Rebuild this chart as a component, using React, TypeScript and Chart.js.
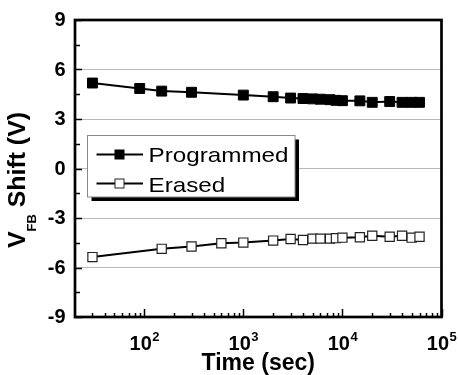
import React, { useEffect, useRef } from 'react';
import { Chart, registerables } from 'chart.js';

Chart.register(...registerables);

// ---- data ----
const programmedTime = [30, 90, 150, 300, 1000, 2000, 3000, 4000, 5000, 6000, 7500, 8600, 10000, 15000, 20000, 30000, 40000, 50000, 60000];
const programmedShift = [5.18, 4.85, 4.69, 4.62, 4.45, 4.35, 4.27, 4.24, 4.22, 4.2, 4.17, 4.13, 4.11, 4.1, 4.01, 4.06, 4.01, 4.01, 4.01];
const erasedTime = [30, 150, 300, 600, 1000, 2000, 3000, 4000, 5000, 6000, 7500, 8600, 10000, 15000, 20000, 30000, 40000, 50000, 60000];
const erasedShift = [-5.37, -4.87, -4.73, -4.53, -4.49, -4.37, -4.27, -4.33, -4.25, -4.25, -4.25, -4.22, -4.19, -4.17, -4.08, -4.14, -4.08, -4.19, -4.14];

const yMajorTicks = [-9, -6, -3, 0, 3, 6, 9];
const yMinorTicks = [-7.5, -4.5, -1.5, 1.5, 4.5, 7.5];
const xMajorTicks = [100, 1000, 10000, 100000];
const xTickExponents = ['2', '3', '4', '5'];
const xMinorTicks = [
  30, 40, 50, 60, 70, 80, 90,
  200, 300, 400, 500, 600, 700, 800, 900,
  2000, 3000, 4000, 5000, 6000, 7000, 8000, 9000,
  20000, 30000, 40000, 50000, 60000, 70000, 80000, 90000,
];
const seriesNames = ['Programmed', 'Erased'];
const xTitle = 'Time (sec)';
const yTitleMain = 'V';
const yTitleSub = 'FB';
const yTitleRest = ' Shift (V)';

const FONT = '"Liberation Sans", Arial, Helvetica, sans-serif';

const decorPlugin = {
  id: 'decor',
  afterDraw(chart: any) {
    const { ctx, chartArea: a, scales } = chart;
    const x = scales.x;
    const y = scales.y;
    ctx.save();

    // ticks (inside)
    ctx.strokeStyle = '#000';
    ctx.lineWidth = 1.5;
    const seg = (x1: number, y1: number, x2: number, y2: number) => {
      ctx.beginPath();
      ctx.moveTo(x1, y1);
      ctx.lineTo(x2, y2);
      ctx.stroke();
    };
    yMajorTicks.forEach((v) => {
      const p = Math.round(y.getPixelForValue(v)) + 0.5;
      seg(a.left, p, a.left + 7, p);
    });
    yMinorTicks.forEach((v) => {
      const p = Math.round(y.getPixelForValue(v)) + 0.5;
      seg(a.left, p, a.left + 5, p);
    });
    xMajorTicks.forEach((v) => {
      const p = Math.round(x.getPixelForValue(v)) + 0.5;
      seg(p, a.bottom, p, a.bottom - 8);
    });
    xMinorTicks.forEach((v) => {
      const p = Math.round(x.getPixelForValue(v)) + 0.5;
      seg(p, a.bottom, p, a.bottom - 4);
    });

    // frame
    ctx.lineWidth = 2.7;
    ctx.strokeRect(a.left, a.top, a.right - a.left, a.bottom - a.top);

    // y tick labels
    ctx.fillStyle = '#000';
    ctx.font = `bold 20px ${FONT}`;
    ctx.textAlign = 'right';
    ctx.textBaseline = 'middle';
    yMajorTicks.forEach((v) => {
      ctx.fillText(String(v), 65.5, y.getPixelForValue(v) + 0.5);
    });

    // x tick labels 10^n
    ctx.textAlign = 'left';
    ctx.textBaseline = 'alphabetic';
    xMajorTicks.forEach((v, i) => {
      const px = x.getPixelForValue(v);
      ctx.font = `bold 20px ${FONT}`;
      const w1 = ctx.measureText('10').width;
      ctx.font = `bold 13px ${FONT}`;
      const w2 = ctx.measureText(xTickExponents[i]).width;
      const start = px - (w1 + w2) / 2;
      ctx.font = `bold 20px ${FONT}`;
      ctx.fillText('10', start, 350);
      ctx.font = `bold 13px ${FONT}`;
      ctx.fillText(xTickExponents[i], start + w1 + 0.5, 341);
    });

    // x title
    ctx.font = `bold 23px ${FONT}`;
    ctx.textAlign = 'center';
    ctx.fillText(xTitle, (a.left + a.right) / 2, 370);

    // y title (rotated)
    ctx.save();
    ctx.translate(25, 180);
    ctx.rotate(-Math.PI / 2);
    ctx.textAlign = 'left';
    ctx.font = `bold 23px ${FONT}`;
    const wv = ctx.measureText(yTitleMain).width;
    const wr = ctx.measureText(yTitleRest).width;
    ctx.font = `bold 12px ${FONT}`;
    const ws = ctx.measureText(yTitleSub).width;
    const total = wv + ws + wr;
    const sc = 136 / total;
    ctx.scale(sc, 1);
    let cx = -total / 2;
    ctx.font = `bold 23px ${FONT}`;
    ctx.fillText(yTitleMain, cx, 0);
    cx += wv;
    ctx.font = `bold 12px ${FONT}`;
    ctx.fillText(yTitleSub, cx, 11);
    cx += ws;
    ctx.font = `bold 23px ${FONT}`;
    ctx.fillText(yTitleRest, cx, 0);
    ctx.restore();

    // legend box
    const bx = 87.5, by = 135.5, bw = 207.5, bh = 61.5;
    ctx.fillStyle = '#000';
    ctx.fillRect(bx + 4, by + 4, bw, bh);
    ctx.fillStyle = '#fff';
    ctx.fillRect(bx, by, bw, bh);
    ctx.strokeStyle = '#888';
    ctx.lineWidth = 1;
    ctx.strokeRect(bx, by, bw, bh);

    const rows = [
      { yy: 154.5, fill: '#000', stroke: '#000', base: 161.7 },
      { yy: 183.5, fill: '#fff', stroke: '#222', base: 191.5 },
    ];
    ctx.font = `21px ${FONT}`;
    const tw = ctx.measureText(seriesNames[0]).width;
    const tsc = 140 / tw;
    rows.forEach((r, i) => {
      ctx.strokeStyle = '#000';
      ctx.lineWidth = 2;
      seg(96.5, r.yy, 143, r.yy);
      ctx.fillStyle = r.fill;
      ctx.fillRect(115, r.yy - 4.5, 9, 9);
      ctx.strokeStyle = r.stroke;
      ctx.lineWidth = 1;
      ctx.strokeRect(115, r.yy - 4.5, 9, 9);
      ctx.save();
      ctx.translate(148.5, r.base);
      ctx.scale(tsc, 1);
      ctx.fillStyle = '#000';
      ctx.textAlign = 'left';
      ctx.textBaseline = 'alphabetic';
      ctx.font = `21px ${FONT}`;
      ctx.fillText(seriesNames[i], 0, 0);
      ctx.restore();
    });

    ctx.restore();
  },
};

export default function App() {
  const canvasRef = useRef<HTMLCanvasElement | null>(null);

  useEffect(() => {
    document.body.style.margin = '0';
    const canvas = canvasRef.current;
    if (!canvas) return;
    Chart.defaults.font.family = FONT;
    const chart = new Chart(canvas, {
      type: 'line',
      data: {
        datasets: [
          {
            label: seriesNames[0],
            data: programmedTime.map((t, i) => ({ x: t, y: programmedShift[i] })),
            borderColor: '#000',
            borderWidth: 2,
            pointStyle: 'rect',
            pointRadius: 7,
            pointBackgroundColor: '#000',
            pointBorderColor: '#000',
            pointBorderWidth: 1,
            tension: 0,
          },
          {
            label: seriesNames[1],
            data: erasedTime.map((t, i) => ({ x: t, y: erasedShift[i] })),
            borderColor: '#000',
            borderWidth: 2,
            pointStyle: 'rect',
            pointRadius: 6.5,
            pointBackgroundColor: '#fff',
            pointBorderColor: '#222',
            pointBorderWidth: 1.2,
            tension: 0,
          },
        ],
      },
      options: {
        animation: false,
        responsive: false,
        maintainAspectRatio: false,
        events: [],
        layout: { padding: { left: 75, right: 16.5, top: 20, bottom: 58 } },
        plugins: {
          legend: { display: false },
          tooltip: { enabled: false },
        },
        scales: {
          x: {
            type: 'logarithmic',
            min: 20,
            max: 100000,
            display: true,
            grid: { display: false, drawTicks: false },
            border: { display: false },
            ticks: { display: false },
          },
          y: {
            type: 'linear',
            min: -9,
            max: 9,
            display: true,
            grid: { display: true, drawTicks: false, color: '#b8b8b8', lineWidth: 1 },
            border: { display: false },
            ticks: { display: false, stepSize: 3 },
          },
        },
      },
      plugins: [decorPlugin],
    });
    return () => chart.destroy();
  }, []);

  return (
    <div style={{ width: 458, height: 375, background: '#fff' }}>
      <canvas ref={canvasRef} width={458} height={375} style={{ display: 'block' }} />
    </div>
  );
}
